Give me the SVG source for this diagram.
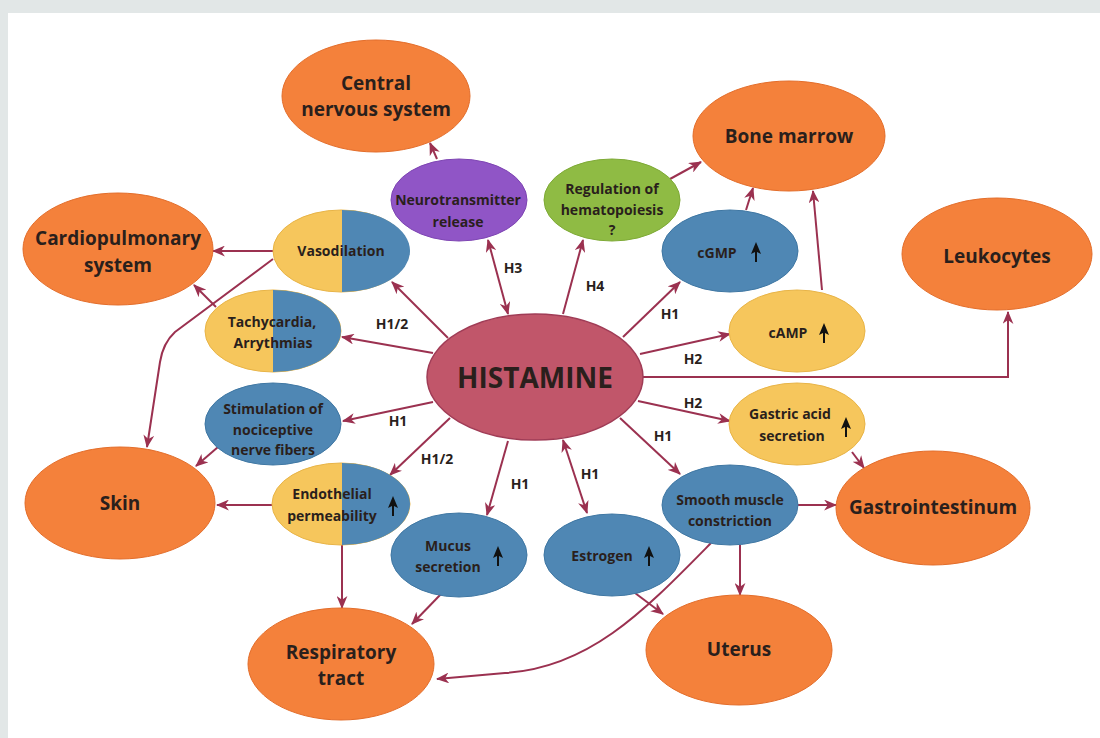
<svg xmlns="http://www.w3.org/2000/svg" width="1100" height="738" viewBox="0 0 1100 738">
<defs>
<style>
.org{fill:#f4813b;stroke:#e36d2a;stroke-width:1}
.blu{fill:#4f87b4;stroke:#3f77a3;stroke-width:1}
.yel{fill:#f6c65c;stroke:#e8b447;stroke-width:1}
.grn{fill:#8fbb44;stroke:#7eaa36;stroke-width:1}
.pur{fill:#9055c6;stroke:#7e45b3;stroke-width:1}
.his{fill:#c1566a;stroke:#a03c56;stroke-width:1.5}
text{font-family:"Open Sans","Noto Sans","Liberation Sans",sans-serif;fill:#2a1f1c;text-anchor:middle;dominant-baseline:central}
.big{font-size:19px;font-weight:700}
.sm{font-size:14px;font-weight:700}
.lbl{font-size:14px;font-weight:700}
.hist{font-size:28px;font-weight:700}
.con path{fill:none;stroke:#9b3150;stroke-width:2;marker-end:url(#ah)}
.con path.dbl{marker-start:url(#ah)}
.up line{stroke:#111;stroke-width:2}
.up path{fill:#111}
</style>
<marker id="ah" viewBox="0 0 12 10" refX="11" refY="5" markerWidth="13" markerHeight="11" markerUnits="userSpaceOnUse" orient="auto-start-reverse">
<path d="M0,0 L12,5 L0,10 L3.5,5 z" fill="#9b3150"/>
</marker>
<g id="uparrow" class="up"><line x1="0" y1="-2" x2="0" y2="10"/><path d="M0,-10 L-5,2 L0,-0.5 L5,2 z"/></g>
</defs>
<rect x="0" y="0" width="1100" height="738" fill="#e2e7e7"/>
<rect x="8" y="13" width="1092" height="725" fill="#ffffff"/>

<g id="connectors" class="con">
<path d="M437,159 L430,143"/>
<path class="dbl" d="M488,240 L508,314"/>
<path d="M563,314 L583,240"/>
<path d="M670,179 L701,162"/>
<path d="M746,210 L753,188"/>
<path d="M822,290 L813,191"/>
<path d="M623,337 L680,282"/>
<path d="M640,354 L730,334"/>
<path d="M643,377 L1008,377 L1008,312"/>
<path d="M638,401 L730,421"/>
<path d="M620,418 L680,474"/>
<path class="dbl" d="M563,440 L587,513"/>
<path d="M508,441 L487,515"/>
<path d="M450,418 L390,475"/>
<path d="M433,402 L343,421"/>
<path d="M433,353 L342,337"/>
<path d="M448,338 L392,282"/>
<path d="M273,251 L213,251"/>
<path d="M216,307 L194,285"/>
<path d="M273,259 L175,332 Q163,343 160,362 L147,447"/>
<path d="M218,447 L196,466"/>
<path d="M272,505 L217,505"/>
<path d="M342,545 L342,608"/>
<path d="M441,594 L412,624"/>
<path d="M635,593 L663,614"/>
<path d="M740,545 L740,595"/>
<path d="M711,543 C645,610 590,668 505,673 L437,679"/>
<path d="M852,452 L864,468"/>
<path d="M798,505 L836,505"/>
</g>

<g id="labels">
<text class="lbl" x="513" y="267">H3</text>
<text class="lbl" x="595" y="285">H4</text>
<text class="lbl" x="670" y="313">H1</text>
<text class="lbl" x="693" y="358">H2</text>
<text class="lbl" x="392" y="323">H1/2</text>
<text class="lbl" x="398" y="420">H1</text>
<text class="lbl" x="437" y="458">H1/2</text>
<text class="lbl" x="520" y="483">H1</text>
<text class="lbl" x="693" y="402">H2</text>
<text class="lbl" x="663" y="435">H1</text>
<text class="lbl" x="590" y="473">H1</text>
</g>

<g id="cns"><ellipse class="org" cx="376" cy="96" rx="94" ry="56"/><text class="big" x="376" y="83">Central</text><text class="big" x="376" y="109">nervous system</text></g>
<g id="bone-marrow"><ellipse class="org" cx="789" cy="136" rx="96" ry="55"/><text class="big" x="789" y="136">Bone marrow</text></g>
<g id="cardiopulmonary"><ellipse class="org" cx="118" cy="249" rx="95" ry="56"/><text class="big" x="118" y="238">Cardiopulmonary</text><text class="big" x="118" y="265">system</text></g>
<g id="leukocytes"><ellipse class="org" cx="997" cy="254" rx="95" ry="56"/><text class="big" x="997" y="256">Leukocytes</text></g>
<g id="skin"><ellipse class="org" cx="120" cy="503" rx="95" ry="56"/><text class="big" x="120" y="503">Skin</text></g>
<g id="gastrointestinum"><ellipse class="org" cx="933" cy="508" rx="97" ry="57"/><text class="big" x="933" y="507">Gastrointestinum</text></g>
<g id="respiratory"><ellipse class="org" cx="341" cy="664" rx="93" ry="56"/><text class="big" x="341" y="652">Respiratory</text><text class="big" x="341" y="678">tract</text></g>
<g id="uterus"><ellipse class="org" cx="739" cy="650" rx="93" ry="55"/><text class="big" x="739" y="649">Uterus</text></g>

<g id="histamine"><ellipse class="his" cx="535" cy="377" rx="108" ry="63"/><text class="hist" x="535" y="377">HISTAMINE</text></g>

<g id="neurotransmitter"><ellipse class="pur" cx="459" cy="200" rx="68" ry="41"/><text class="sm" x="458" y="199">Neurotransmitter</text><text class="sm" x="458" y="221">release</text></g>
<g id="hematopoiesis"><ellipse class="grn" cx="612" cy="200" rx="68" ry="41"/><text class="sm" x="612" y="188">Regulation of</text><text class="sm" x="612" y="209">hematopoiesis</text><text class="sm" x="612" y="229">?</text></g>

<g id="vasodilation"><ellipse class="yel" cx="341" cy="251" rx="68" ry="41"/><path class="blu" d="M342,210 A68,41 0 0 1 342,292 Z" style="stroke:none"/><text class="sm" x="341" y="250">Vasodilation</text></g>
<g id="tachycardia"><ellipse class="yel" cx="273" cy="331" rx="68" ry="41"/><path class="blu" d="M273,290 A68,41 0 0 1 273,372 Z" style="stroke:none"/><text class="sm" x="272" y="321">Tachycardia,</text><text class="sm" x="273" y="342">Arrythmias</text></g>
<g id="nociceptive"><ellipse class="blu" cx="273" cy="424" rx="68" ry="41"/><text class="sm" x="273" y="408">Stimulation of</text><text class="sm" x="273" y="429">nociceptive</text><text class="sm" x="273" y="449">nerve fibers</text></g>
<g id="endothelial"><ellipse class="yel" cx="341" cy="504" rx="69" ry="41"/><path class="blu" d="M342,463 A68,41 0 0 1 342,545 Z" style="stroke:none"/><text class="sm" x="332" y="493">Endothelial</text><text class="sm" x="332" y="515">permeability</text><use href="#uparrow" x="393" y="506"/></g>
<g id="mucus"><ellipse class="blu" cx="459" cy="555" rx="68" ry="42"/><text class="sm" x="448" y="545">Mucus</text><text class="sm" x="448" y="566">secretion</text><use href="#uparrow" x="498" y="556"/></g>
<g id="estrogen"><ellipse class="blu" cx="612" cy="555" rx="68" ry="41"/><text class="sm" x="602" y="555">Estrogen</text><use href="#uparrow" x="649" y="556"/></g>
<g id="smooth-muscle"><ellipse class="blu" cx="730" cy="505" rx="68" ry="40"/><text class="sm" x="730" y="499">Smooth muscle</text><text class="sm" x="730" y="520">constriction</text></g>
<g id="gastric-acid"><ellipse class="yel" cx="797" cy="424" rx="68" ry="41"/><text class="sm" x="790" y="413">Gastric acid</text><text class="sm" x="792" y="435">secretion</text><use href="#uparrow" x="846" y="427"/></g>
<g id="camp"><ellipse class="yel" cx="797" cy="331" rx="68" ry="41"/><text class="sm" x="788" y="332">cAMP</text><use href="#uparrow" x="824" y="333"/></g>
<g id="cgmp"><ellipse class="blu" cx="730" cy="251" rx="68" ry="41"/><text class="sm" x="717" y="252">cGMP</text><use href="#uparrow" x="756" y="252"/></g>
</svg>
